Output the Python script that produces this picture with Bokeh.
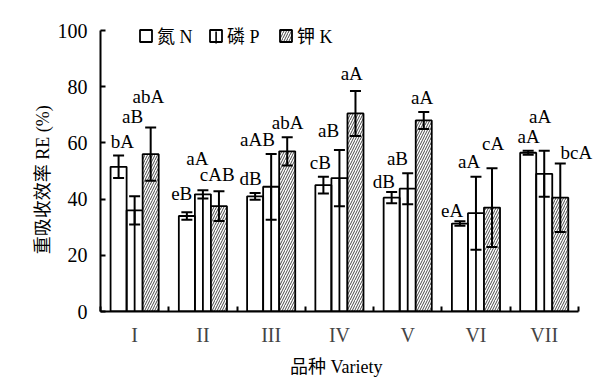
import numpy as np
from bokeh.plotting import figure
from bokeh.models import (Range1d, FixedTicker, Whisker, TeeHead, ColumnDataSource,
                          Legend, LegendItem, Label, BoxAnnotation)
from bokeh.core.enums import CoordinateUnits
from bokeh.embed import file_html
from bokeh.resources import INLINE

# ---------------- data ----------------
varieties = ["I", "II", "III", "IV", "V", "VI", "VII"]
re_N = [51.5, 34.0, 41.0, 45.0, 40.5, 31.3, 56.5]
err_N = [4.0, 1.3, 1.2, 3.0, 2.0, 0.8, 0.7]
re_P = [36.0, 41.7, 44.4, 47.5, 43.7, 35.0, 49.0]
err_P = [5.0, 1.5, 11.7, 10.0, 5.5, 13.0, 8.2]
re_K = [56.0, 37.5, 57.0, 70.5, 68.0, 37.0, 40.5]
err_K = [9.5, 5.3, 5.0, 8.0, 3.0, 14.0, 12.2]
sig_N = ["bA", "eB", "dB", "cB", "dB", "eA", "aA"]
sig_P = ["aB", "aA", "aAB", "aB", "aB", "aA", "aA"]
sig_K = ["abA", "cAB", "abA", "aA", "aA", "cA", "bcA"]
y_ticks = [0, 20, 40, 60, 80, 100]

# ---------------- label placement (layout) ----------------
lab_N_dx = [-0.18, -0.31, -0.30, -0.28, -0.35, -0.35, -0.23]
lab_N_y = [60.4, 42.1, 47.5, 53.0, 46.2, 36.1, 62.2]
lab_P_dx = [-0.03, -0.08, -0.20, -0.16, -0.15, -0.10, -0.06]
lab_P_y = [69.4, 54.6, 61.1, 64.6, 54.5, 53.3, 69.4]
lab_K_dx = [0.20, 0.21, 0.24, 0.18, 0.21, 0.25, 0.47]
lab_K_y = [76.5, 48.6, 67.3, 84.6, 76.0, 59.9, 56.5]

SERIF = "Liberation Serif, Noto Sans CJK SC"
NB = "\u00a0"
W = 0.235
xc = np.arange(1, len(varieties) + 1, dtype=float)

p = figure(width=615, height=388, x_range=Range1d(0.5, 8.0), y_range=Range1d(0, 105),
           output_backend="svg", toolbar_location=None,
           min_border_left=100, min_border_right=3, min_border_top=16, min_border_bottom=77)
p.grid.visible = False
p.outline_line_color = None
p.background_fill_color = "white"

def src(vals, errs, off):
    x = xc + off
    v = np.array(vals)
    e = np.array(errs)
    return ColumnDataSource(dict(x=x, top=v, upper=v + e, lower=v - e))

sN = src(re_N, err_N, -W)
sP = src(re_P, err_P, 0.0)
sK = src(re_K, err_K, W)

# centre stroke of the P legend swatch (drawn beneath the transparent P swatch)
if "canvas" in CoordinateUnits:
    box = dict(left=214.8, right=216.4, top=31, bottom=43, left_units="canvas",
               right_units="canvas", top_units="canvas", bottom_units="canvas")
else:
    box = dict(left=114.8, right=116.4, bottom=268, top=280, left_units="screen",
               right_units="screen", top_units="screen", bottom_units="screen")
p.add_layout(BoxAnnotation(**box, fill_color="black", fill_alpha=1, line_color=None,
                           level="underlay"))

rN = p.vbar(x="x", top="top", width=W, bottom=0, source=sN, fill_color="white",
            line_color="black", line_width=1.8)
rP = p.vbar(x="x", top="top", width=W, bottom=0, source=sP, fill_color=None,
            line_color="black", line_width=1.8)
rK = p.vbar(x="x", top="top", width=W, bottom=0, source=sK, fill_color="white",
            line_color="black", line_width=1.8, hatch_pattern="/", hatch_scale=5,
            hatch_weight=0.9, hatch_color="#333333")
p.segment(x0="x", y0=0, x1="x", y1="top", source=sP, line_color="black", line_width=1.8)

for s in (sN, sP, sK):
    w = Whisker(source=s, base="x", upper="upper", lower="lower", dimension="height",
                line_color="black", line_width=2,
                upper_head=TeeHead(size=11, line_width=2, line_color="black"),
                lower_head=TeeHead(size=11, line_width=2, line_color="black"))
    w.level = "overlay"
    p.add_layout(w)

# significance letters
lx = np.concatenate([xc + np.array(lab_N_dx), xc + np.array(lab_P_dx), xc + np.array(lab_K_dx)])
ly = np.concatenate([lab_N_y, lab_P_y, lab_K_y])
lt = sig_N + sig_P + sig_K
for x, y, t in zip(lx, ly, lt):
    p.add_layout(Label(x=float(x), y=float(y), text=t, text_align="center",
                       text_baseline="middle", text_font=SERIF, text_font_size="19px",
                       text_color="black"))

# axes
p.yaxis.ticker = FixedTicker(ticks=y_ticks)
p.yaxis.bounds = (0, 100)
p.yaxis.minor_tick_line_color = None
p.yaxis.major_tick_in = 5
p.yaxis.major_tick_out = 0
p.yaxis.major_tick_line_width = 2
p.yaxis.axis_line_width = 2
p.yaxis.major_label_text_font = SERIF
p.yaxis.major_label_text_font_size = "20px"
p.yaxis.major_label_text_color = "black"
p.yaxis.major_label_standoff = 13
p.yaxis.axis_label = "重吸收效率 RE (%)" + NB * 7
p.yaxis.axis_label_text_font = SERIF
p.yaxis.axis_label_text_font_size = "18px"
p.yaxis.axis_label_text_font_style = "normal"
p.yaxis.axis_label_text_color = "black"
p.yaxis.axis_label_standoff = 2

p.xaxis.ticker = FixedTicker(ticks=list(xc), minor_ticks=list(np.arange(0.5, 8.0, 1.0)))
p.xaxis.bounds = (0.5, 7.5)
p.xaxis.major_label_overrides = {float(x): v for x, v in zip(xc, varieties)}
p.xaxis.major_tick_in = 0
p.xaxis.major_tick_out = 0
p.xaxis.minor_tick_in = 5
p.xaxis.minor_tick_out = 0
p.xaxis.minor_tick_line_width = 2
p.xaxis.minor_tick_line_color = "black"
p.xaxis.axis_line_width = 2
p.xaxis.major_label_text_font = SERIF
p.xaxis.major_label_text_font_size = "20px"
p.xaxis.major_label_text_color = "#444444"
p.xaxis.major_label_standoff = 12
p.xaxis.axis_label = "品种 Variety" + NB * 9
p.xaxis.axis_label_text_font = SERIF
p.xaxis.axis_label_text_font_size = "18px"
p.xaxis.axis_label_text_font_style = "normal"
p.xaxis.axis_label_text_color = "black"
p.xaxis.axis_label_standoff = 8

legend = Legend(items=[LegendItem(label="氮 N", renderers=[rN]),
                       LegendItem(label="磷 P", renderers=[rP]),
                       LegendItem(label="钾 K", renderers=[rK])],
                orientation="horizontal", location=(38, 263),
                glyph_width=15, glyph_height=15, label_standoff=4, spacing=1,
                label_width=50, padding=0, margin=0, border_line_color=None,
                background_fill_alpha=0, label_text_font=SERIF,
                label_text_font_size="18px", label_text_color="black")
p.add_layout(legend, "center")

open("out.html", "w").write(file_html(p, INLINE))
